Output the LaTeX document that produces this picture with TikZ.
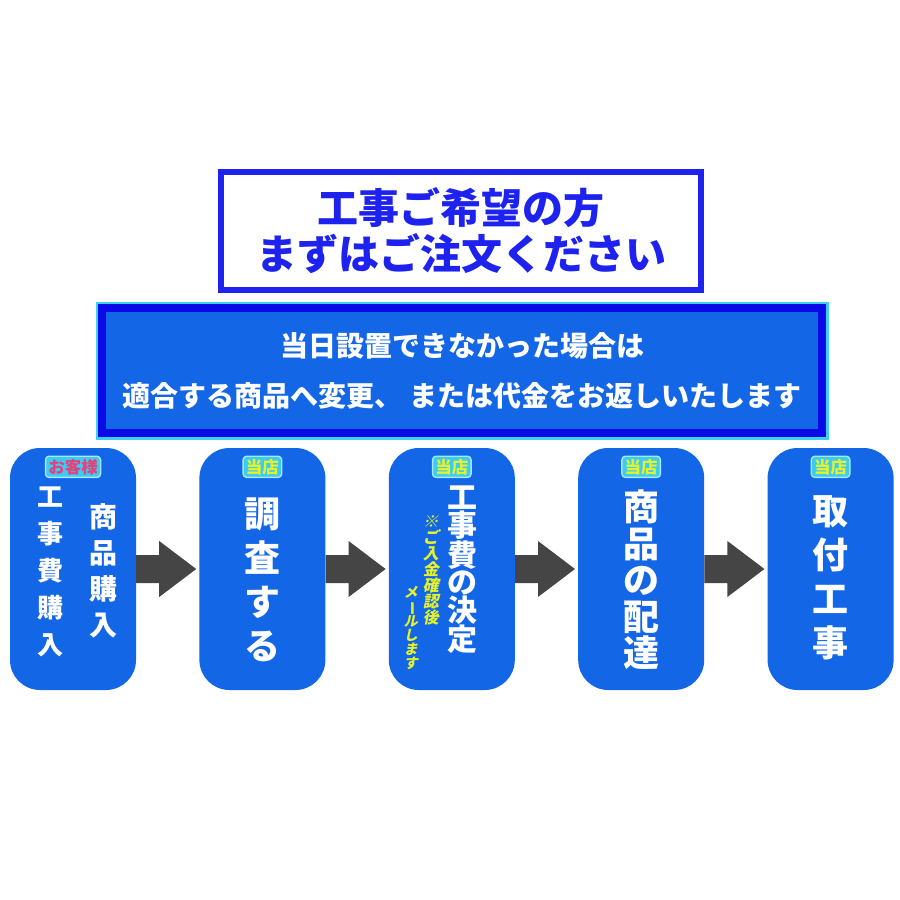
\documentclass[tikz,border=0pt]{standalone}
\usepackage{fontspec}
\setmainfont{Noto Sans CJK JP}
\usetikzlibrary{positioning,calc}
\definecolor{titleblue}{HTML}{1E22EE}
\definecolor{boxblue}{HTML}{1366E6}
\definecolor{bannerdark}{HTML}{0A0AE6}
\definecolor{bannercyan}{HTML}{3ECFF2}
\definecolor{arrowgray}{HTML}{454545}
\definecolor{badgecyan}{HTML}{3CCCF2}
\definecolor{badgepink}{HTML}{E6407C}
\definecolor{badgeyellow}{HTML}{E4F22C}

\tikzset{
  stepbox/.style={fill=boxblue, rounded corners=30pt, minimum width=126pt, minimum height=242pt},
  badge/.style={fill=badgecyan, rounded corners=3pt, inner sep=2pt, minimum height=18pt,
    preaction={draw=badgecyan!45, line width=3pt}, font=\bfseries\fontsize{16.5}{16.5}\selectfont},
  tate/.style 2 args={align=center, inner sep=0pt, text=white, font=\bfseries\fontsize{#1}{#2}\selectfont},
  memo/.style={text=badgeyellow, font=\bfseries\addfontfeatures{FakeSlant=0.2}\fontsize{#1}{#1}\selectfont},
}

\begin{document}
\begin{tikzpicture}[x=1pt,y=-1pt]
\useasboundingbox (0,0) rectangle (900,900);
\fill[white] (0,0) rectangle (900,900);

% Title
\node[draw=titleblue, line width=6pt, minimum width=480pt, minimum height=118pt,
  text=titleblue, align=center, font=\bfseries\fontsize{41}{46}\selectfont]
  (title) at (461,231) {工事ご希望の方\\まずはご注文ください};

% Notice banner
\node[fill=boxblue, draw=bannerdark, line width=8pt, minimum width=720pt, minimum height=125pt,
  preaction={draw=bannercyan, line width=13pt}, text=white, align=center,
  font=\bfseries\fontsize{28}{50}\selectfont]
  (note) at (462,370.5) {当日設置できなかった場合は\\適合する商品へ変更、 または代金をお返しいたします};

% Steps
\node[stepbox] (b1) at (73,569) {};
\node[stepbox, right=63pt of b1] (b2) {};
\node[stepbox, right=63pt of b2] (b3) {};
\node[stepbox, right=63pt of b3] (b4) {};
\node[stepbox, right=63pt of b4] (b5) {};

% Arrows between steps
\foreach \a/\b in {b1/b2,b2/b3,b3/b4,b4/b5} {
  \fill[arrowgray] ($(\a.east)+(0,14)$) -- ++(23,0) -- ++(0,14) -- ($(\b.west)+(-3,0)$)
    -- ($(\a.east)+(23,-28)$) -- ++(0,14) -- ($(\a.east)+(0,-14)$) -- cycle;
}

% Badges
\node[badge, text=badgepink, below=9pt of b1.north] (k1) {お客様};
\foreach \i in {2,...,5}
  \node[badge, text=badgeyellow, below=9pt of b\i.north] (k\i) {当店};

% Step texts
\node[tate={26}{37}] (t1a) at ($(b1)+(-23,3)$) {工\\事\\費\\購\\入};
\node[tate={28}{36}] (t1b) at ($(b1)+(30,2)$) {商\\品\\購\\入};
\node[tate={36}{44}] (t2) at ($(b2)+(0,11)$) {調\\査\\す\\る};
\node[tate={30}{27.5}] (t3) at ($(b3)+(11,1)$) {工\\事\\費\\の\\決\\定};
\node[tate={16}{18}, memo=16] (t3a) at ($(b3)+(-21,1)$) {※\\ご\\入\\金\\確\\認\\後};
\node[tate={14}{14.5}, memo=14] (t3b) at ($(b3)+(-41,59)$) {メ\\\rotatebox[origin=c]{-90}{ー}\\ル\\し\\ま\\す};
\node[tate={36}{36.5}] (t4) at ($(b4)+(0,11)$) {商\\品\\の\\配\\達};
\node[tate={36}{44}] (t5) at ($(b5)+(0,9)$) {取\\付\\工\\事};
\end{tikzpicture}
\end{document}
